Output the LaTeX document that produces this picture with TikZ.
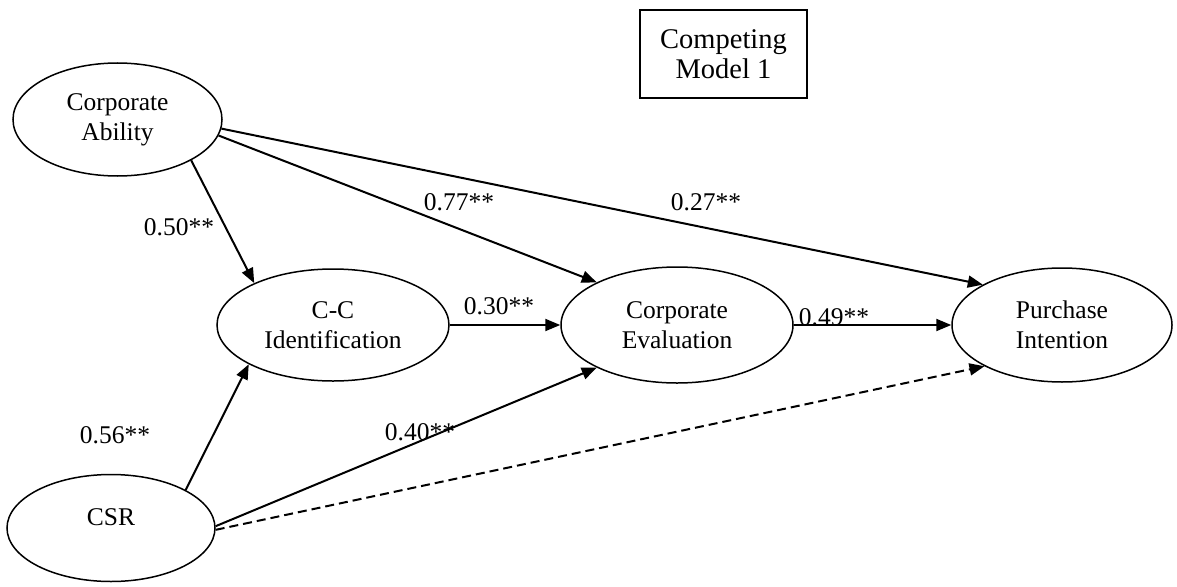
\documentclass[tikz,border=0pt]{standalone}
\usepackage{fontspec}
\setmainfont{Liberation Serif}
\usetikzlibrary{arrows.meta,shapes.geometric}
\begin{document}
\begin{tikzpicture}[x=1pt,y=-1pt,
  latent/.style={ellipse, draw, line width=1.5pt, inner sep=0pt, align=center,
    font=\fontsize{25.5}{30}\selectfont},
  plain/.style={inner sep=0pt, font=\fontsize{25.5}{30}\selectfont},
  titlebox/.style={draw, line width=1.5pt, align=center, inner sep=0pt,
    minimum width=167pt, minimum height=88pt, font=\fontsize{28.5}{30}\selectfont},
  effect/.style={line width=2pt, -{Triangle[length=15pt,width=12pt]}},
  weak/.style={effect, dash pattern=on 9pt off 5pt},
  coef/.style={font=\fontsize{25.5}{29}\selectfont, inner sep=0pt},
]
\useasboundingbox (0,0) rectangle (1177,586);

% latent constructs
\node[latent, minimum width=209pt, minimum height=113pt] (ca)  at (117.5,119.5) {Corporate\\Ability};
\node[latent, minimum width=232pt, minimum height=112pt] (cc)  at (333,325) {C-C\\Identification};
\node[latent, minimum width=232pt, minimum height=116pt] (ce)  at (677,325) {Corporate\\Evaluation};
\node[latent, minimum width=220pt, minimum height=114pt] (pi)  at (1062,325) {Purchase\\Intention};
\node[latent, minimum width=208pt, minimum height=107pt] (csr) at (111,528) {};
\node[plain] (csrtext) at (111,517) {CSR};

% model label
\node[titlebox] (title) at (723.5,54) {Competing\\Model 1};

% structural paths
\draw[effect] (ca.-29) -- (cc.152.6);
\draw[effect] (ca.-9) -- (ce.152.3);
\draw[effect] (ca.-5) -- (pi.153.1);
\draw[effect] (cc.east) -- (ce.west);
\draw[effect] (ce.east) -- (pi.west);
\draw[effect] (csr.27) -- (cc.205);
\draw[effect] (csr.1) -- (ce.208.6);
\draw[weak] (csr.-1) -- (pi.208.6);

% path coefficients
\node[coef] (c1) at (179,227) {0.50**};
\node[coef] (c2) at (459,202) {0.77**};
\node[coef] (c3) at (706,202) {0.27**};
\node[coef] (c4) at (499,306) {0.30**};
\node[coef] (c5) at (834,317) {0.49**};
\node[coef] (c6) at (115,435) {0.56**};
\node[coef] (c7) at (420,432) {0.40**};
\end{tikzpicture}
\end{document}
